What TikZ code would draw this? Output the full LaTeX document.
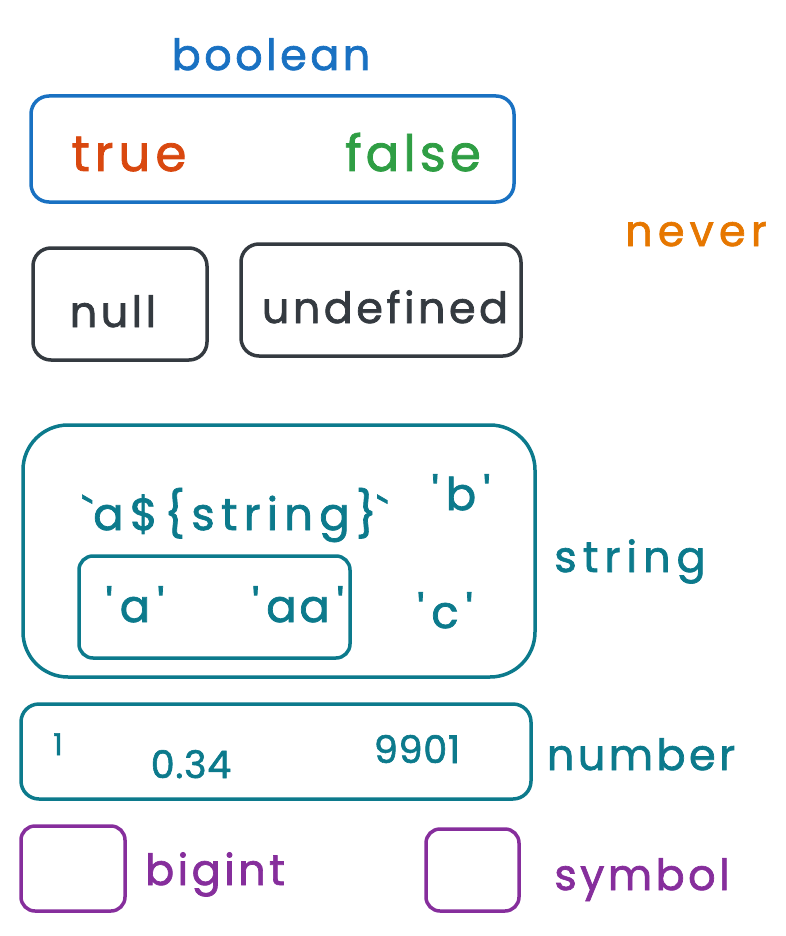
\documentclass[tikz,border=0pt]{standalone}
\usepackage{fontspec}
\setmainfont{Poppins}[FakeBold=1.6]
\usetikzlibrary{fit}
\definecolor{cblue}{HTML}{1971C2}
\definecolor{cred}{HTML}{D9480F}
\definecolor{cgreen}{HTML}{2F9E44}
\definecolor{corange}{HTML}{E67700}
\definecolor{cdark}{HTML}{343A40}
\definecolor{cteal}{HTML}{0C7A8C}
\definecolor{cpurple}{HTML}{862E9C}
\newcommand\hwsize[2]{\fontsize{#1}{#1}\selectfont\addfontfeature{LetterSpace=#2}}
\newcommand\qt[1]{\textquotesingle\hspace{7pt}#1\hspace{7pt}\textquotesingle}
\begin{document}
\begin{tikzpicture}[x=1pt,y=-1pt,
  box/.style={draw, line width=3.5pt, rounded corners=18pt, inner sep=0pt},
  bigbox/.style={box, rounded corners=45pt},
  lbl/.style={inner sep=0pt, anchor=base, font=\hwsize{43}{8}},
  quoted/.style={inner sep=0pt, anchor=base, font=\hwsize{45}{6}},
  numtxt/.style={inner sep=0pt, anchor=base, font=\hwsize{38}{2}}]
\useasboundingbox (0,0) rectangle (786,936);

% boolean
\node[lbl, cblue] (boolean) at (271,70) {boolean};
\node[box, cblue, fit={(31,96) (514,202)}] (boolbox) {};
\node[lbl, cred, font=\hwsize{50}{10}] (true) at (129,171) {true};
\node[lbl, cgreen, font=\hwsize{50}{8}] (false) at (413,171) {false};

% never
\node[lbl, corange, font=\hwsize{43}{12}] (never) at (696,246) {never};

% null / undefined
\node[box, cdark, fit={(33,248) (207,360)}] (nullbox) {};
\node[lbl, cdark] (null) at (113,327) {null};
\node[box, cdark, fit={(241,244) (521,356)}] (undefbox) {};
\node[lbl, cdark] (undefined) at (385,323) {undefined};

% string
\node[bigbox, cteal, fit={(23,425) (535,677)}] (strbox) {};
\node[lbl, cteal, font=\hwsize{45}{14}] (tmpl) at (235,530) {\textasciigrave a\$\{string\}\textasciigrave};
\node[quoted, cteal] (b) at (461,510) {\qt{b}};
\node[box, cteal, rounded corners=14pt, fit={(79,556) (350,658)}] (innerbox) {};
\node[quoted, cteal] (a) at (135,622) {\qt{a}};
\node[quoted, cteal] (aa) at (298,622) {\qt{aa}};
\node[quoted, cteal] (c) at (445,628) {\qt{c}};
\node[lbl, cteal, font=\hwsize{43}{14}] (string) at (630,572) {string};

% number
\node[box, cteal, fit={(21,704) (531,799)}] (numbox) {};
\node[numtxt, cteal, font=\hwsize{30}{0}] (one) at (58,755) {1};
\node[numtxt, cteal] (n034) at (191,778) {0.34};
\node[numtxt, cteal] (n9901) at (417,763) {9901};
\node[lbl, cteal] (number) at (641,770) {number};

% bigint / symbol
\node[box, cpurple, rounded corners=14pt, fit={(21,826) (125,911)}] (bigbox) {};
\node[lbl, cpurple] (bigint) at (215,885) {bigint};
\node[box, cpurple, rounded corners=14pt, fit={(426,829) (519,911)}] (symbox) {};
\node[lbl, cpurple] (symbol) at (642,890) {symbol};
\end{tikzpicture}
\end{document}
